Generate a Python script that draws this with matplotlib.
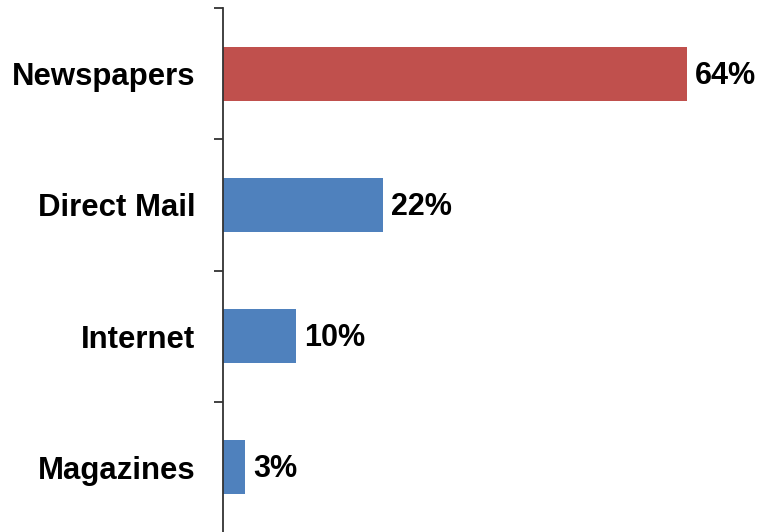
import matplotlib
matplotlib.use("Agg")
import matplotlib.pyplot as plt
import numpy as np

categories = ["Newspapers", "Direct Mail", "Internet", "Magazines"]
values = [64, 22, 10, 3]
colors = ["#C0504D", "#4F81BD", "#4F81BD", "#4F81BD"]

plt.rcParams['font.family'] = ['Liberation Sans', 'DejaVu Sans']

W, H = 757, 532
fig = plt.figure(figsize=(W / 100, H / 100), dpi=100)
left = 223 / W
right_px = 745
top_px = 8
bottom_px = 533
ax = fig.add_axes([left, 1 - bottom_px / H, (right_px - 223) / W, (bottom_px - top_px) / H])

n = len(categories)
y = np.arange(n)[::-1]  # Newspapers at top
ax.barh(y, values, height=0.41, color=colors, zorder=2)

ax.set_ylim(-0.5, n - 0.5)
ax.set_xlim(0, (right_px - 223) / 7.25)

for yi, v in zip(y, values):
    ax.annotate(f"{v}%", xy=(v, yi), xytext=(6, -1.5), textcoords="offset points",
                ha="left", va="center", fontsize=22, fontweight="bold", color="black")

for s in ["top", "right", "bottom"]:
    ax.spines[s].set_visible(False)
ax.spines["left"].set_color("#333333")
ax.spines["left"].set_linewidth(1.3)
ax.spines["left"].set_zorder(3)

ax.set_xticks([])
ax.set_yticks(np.arange(n + 1) - 0.5)
ax.set_yticklabels([])
ax.tick_params(axis="y", which="major", length=6.5, width=1.3, color="#333333", direction="out")
ax.set_yticks(y, minor=True)
ax.set_yticklabels(categories, minor=True, fontsize=22.4, fontweight="bold")
ax.tick_params(axis="y", which="minor", length=0, pad=20)

fig.savefig("out.png", dpi=100)
